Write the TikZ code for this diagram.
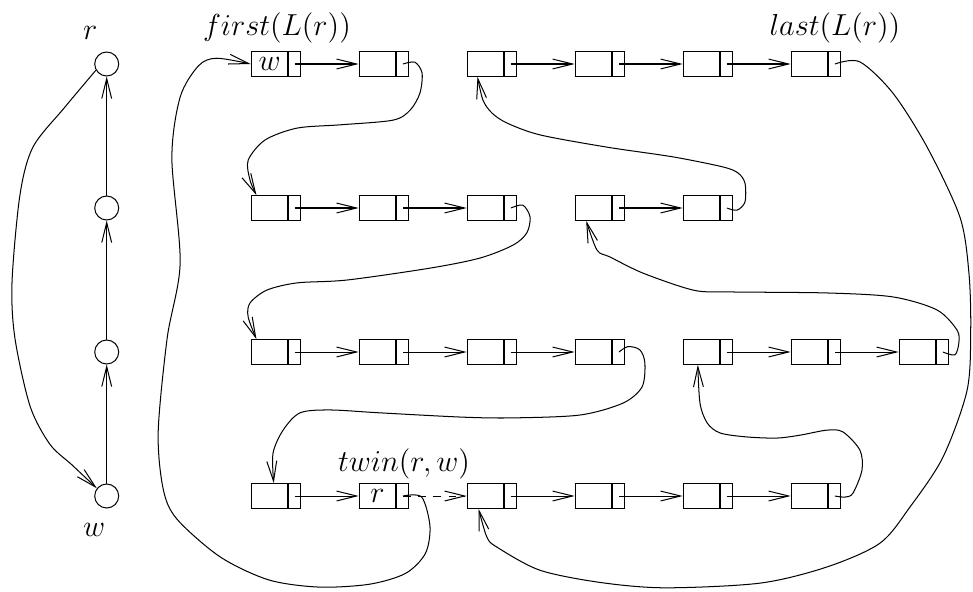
\documentclass[tikz,border=0pt]{standalone}
\usepackage{tikz}
\usepackage{amsmath}
\usetikzlibrary{positioning,arrows.meta}
\tikzstyle{vertex}=[circle,draw,minimum size=0.333cm,inner sep=0pt]
\tikzstyle{cell}=[draw,minimum width=0.51cm,minimum height=0.342cm,inner sep=0pt,font=\large]
\tikzstyle{ptr}=[draw,minimum width=0.167cm,minimum height=0.342cm,inner sep=0pt]
\tikzstyle{lbl}=[anchor=base,inner sep=0pt,font=\large]
\newcommand{\listentry}[3]{%
  \node[cell,anchor=west] at (#2) (#1) {#3};
  \node[ptr,right=0pt of #1] (#1p) {};}

\begin{document}
\begin{tikzpicture}[x=0.5cm,y=0.5cm,>={Straight Barb[length=7.9pt,width=3.9pt]}]
\useasboundingbox (-2.964,1.778) rectangle (24.064,-14.639);
\node[vertex] at (0, 0) (r) {};
\node[vertex] at (0, -4) (a) {};
\node[vertex] at (0, -8) (b) {};
\node[vertex] at (0, -12) (w) {};
\node[lbl] at (-0.46, 0.69) (rname) {$r$};
\node[lbl] at (-0.35, -13.13) (wname) {$w$};
\draw[->] (a) -- (r);
\draw[->] (b) -- (a);
\draw[->] (w) -- (b);
\draw[->] plot[smooth] coordinates {(r.210) (-1.18,-1.22) (-2.05,-2.31) (-2.41,-3.64) (-2.63,-6.06) (-2.55,-7.61) (-2.13,-9.5) (-1.58,-10.56) (-0.96,-11.14) (w.142)};

\node[lbl] at (4.73, 0.8) (first) {$first(L(r))$};
\node[lbl] at (20.23, 0.8) (last) {$last(L(r))$};
\node[lbl] at (8.26, -11.33) (twin) {$twin(r,w)$};

\listentry{e11}{4,0}{$w$}
\listentry{e12}{7,0}{}
\listentry{e13}{10,0}{}
\listentry{e14}{13,0}{}
\listentry{e15}{16,0}{}
\listentry{e16}{19,0}{}
\listentry{e21}{4,-4}{}
\listentry{e22}{7,-4}{}
\listentry{e23}{10,-4}{}
\listentry{e24}{13,-4}{}
\listentry{e25}{16,-4}{}
\listentry{e31}{4,-8}{}
\listentry{e32}{7,-8}{}
\listentry{e33}{10,-8}{}
\listentry{e34}{13,-8}{}
\listentry{e35}{16,-8}{}
\listentry{e36}{19,-8}{}
\listentry{e37}{22,-8}{}
\listentry{e41}{4,-12}{}
\listentry{e42}{7,-12}{$r$}
\listentry{e43}{10,-12}{}
\listentry{e44}{13,-12}{}
\listentry{e45}{16,-12}{}
\listentry{e46}{19,-12}{}

\draw[->] (e11p.center) -- (e12);
\draw[->] (e13p.center) -- (e14);
\draw[->] (e14p.center) -- (e15);
\draw[->] (e15p.center) -- (e16);
\draw[->] (e21p.center) -- (e22);
\draw[->] (e22p.center) -- (e23);
\draw[->] (e24p.center) -- (e25);
\draw[->] (e31p.center) -- (e32);
\draw[->] (e32p.center) -- (e33);
\draw[->] (e33p.center) -- (e34);
\draw[->] (e35p.center) -- (e36);
\draw[->] (e36p.center) -- (e37);
\draw[->] (e41p.center) -- (e42);
\draw[->,dashed] (e42p.center) -- (e43);
\draw[->] (e43p.center) -- (e44);
\draw[->] (e44p.center) -- (e45);
\draw[->] (e45p.center) -- (e46);

\draw[->] plot[smooth] coordinates {(e12p.center) (8.56,0.05) (8.76,-0.25) (8.7,-0.81) (8.43,-1.28) (7.95,-1.56) (6.48,-1.69) (5.29,-1.78) (4.4,-2.11) (3.93,-2.67) (3.98,-3.22) ([xshift=0.08cm]e21.north west)};
\draw[->] plot[smooth] coordinates {(e23p.center) (11.56,-3.92) (11.76,-4.25) (11.67,-4.69) (11.29,-5.03) (10.37,-5.39) (8.98,-5.67) (6.68,-6.0) (5.29,-6.08) (4.45,-6.28) (3.98,-6.64) (3.93,-7.03) ([xshift=0.08cm]e31.north west)};
\draw[->] plot[smooth] coordinates {(e34p.center) (14.48,-7.85) (14.81,-7.94) (14.95,-8.31) (14.87,-8.97) (14.34,-9.42) (13.15,-9.75) (11.29,-9.83) (9.9,-9.81) (7.59,-9.69) (6.2,-9.61) (5.37,-9.69) (4.9,-10.17) (4.62,-10.81) ([xshift=0.32cm]e41.north west)};
\draw[->] plot[smooth] coordinates {(e42p.center) (8.75,-12.03) (8.98,-12.85) (8.85,-13.6) (8.3,-14.15) (7.3,-14.45) (5.9,-14.53) (4.5,-14.33) (3.15,-13.69) (1.95,-12.64) (1.57,-11.81) (1.43,-10.22) (1.68,-7.61) (2.04,-5.53) (1.81,-2.61) (2.04,-0.92) (2.55,-0.05) (3.05,0.16) (e11.west)};
\draw[->] plot[smooth] coordinates {(e25p.center) (17.51,-4.06) (17.73,-3.83) (17.73,-3.31) (17.54,-3.03) (17.12,-2.86) (15.73,-2.58) (13.9,-2.31) (12.04,-1.97) (11.12,-1.64) (10.7,-1.36) (10.45,-1.0) ([xshift=0.15cm]e13.south west)};
\draw[->] plot[smooth] coordinates {(e37p.center) (23.56,-8.08) (23.67,-7.75) (23.62,-7.39) (23.06,-6.83) (21.84,-6.47) (20.01,-6.36) (17.23,-6.33) (16.29,-6.28) (14.9,-5.81) (13.98,-5.36) (13.62,-5.17) ([xshift=0.16cm]e24.south west)};
\draw[->] plot[smooth] coordinates {(e46p.center) (20.51,-12.03) (20.73,-11.92) (20.98,-11.28) (20.92,-10.72) (20.45,-10.22) (20.01,-10.17) (19.26,-10.31) (18.62,-10.39) (17.79,-10.36) (17.04,-10.25) (16.68,-9.97) (16.48,-9.42) ([xshift=0.21cm]e35.south west)};
\draw[->] plot[smooth] coordinates {(e16p.center) (20.92,0.06) (21.84,-0.81) (22.79,-2.31) (23.7,-4.25) (23.95,-5.8) (24.0,-7.4) (23.9,-9.06) (23.23,-10.92) (22.31,-12.31) (21.48,-13.31) (20.01,-13.97) (18.15,-14.42) (15.5,-14.55) (13.7,-14.4) (12.03,-14.06) (10.84,-13.42) (10.56,-13.14) ([xshift=0.165cm]e43.south west)};
\end{tikzpicture}
\end{document}
